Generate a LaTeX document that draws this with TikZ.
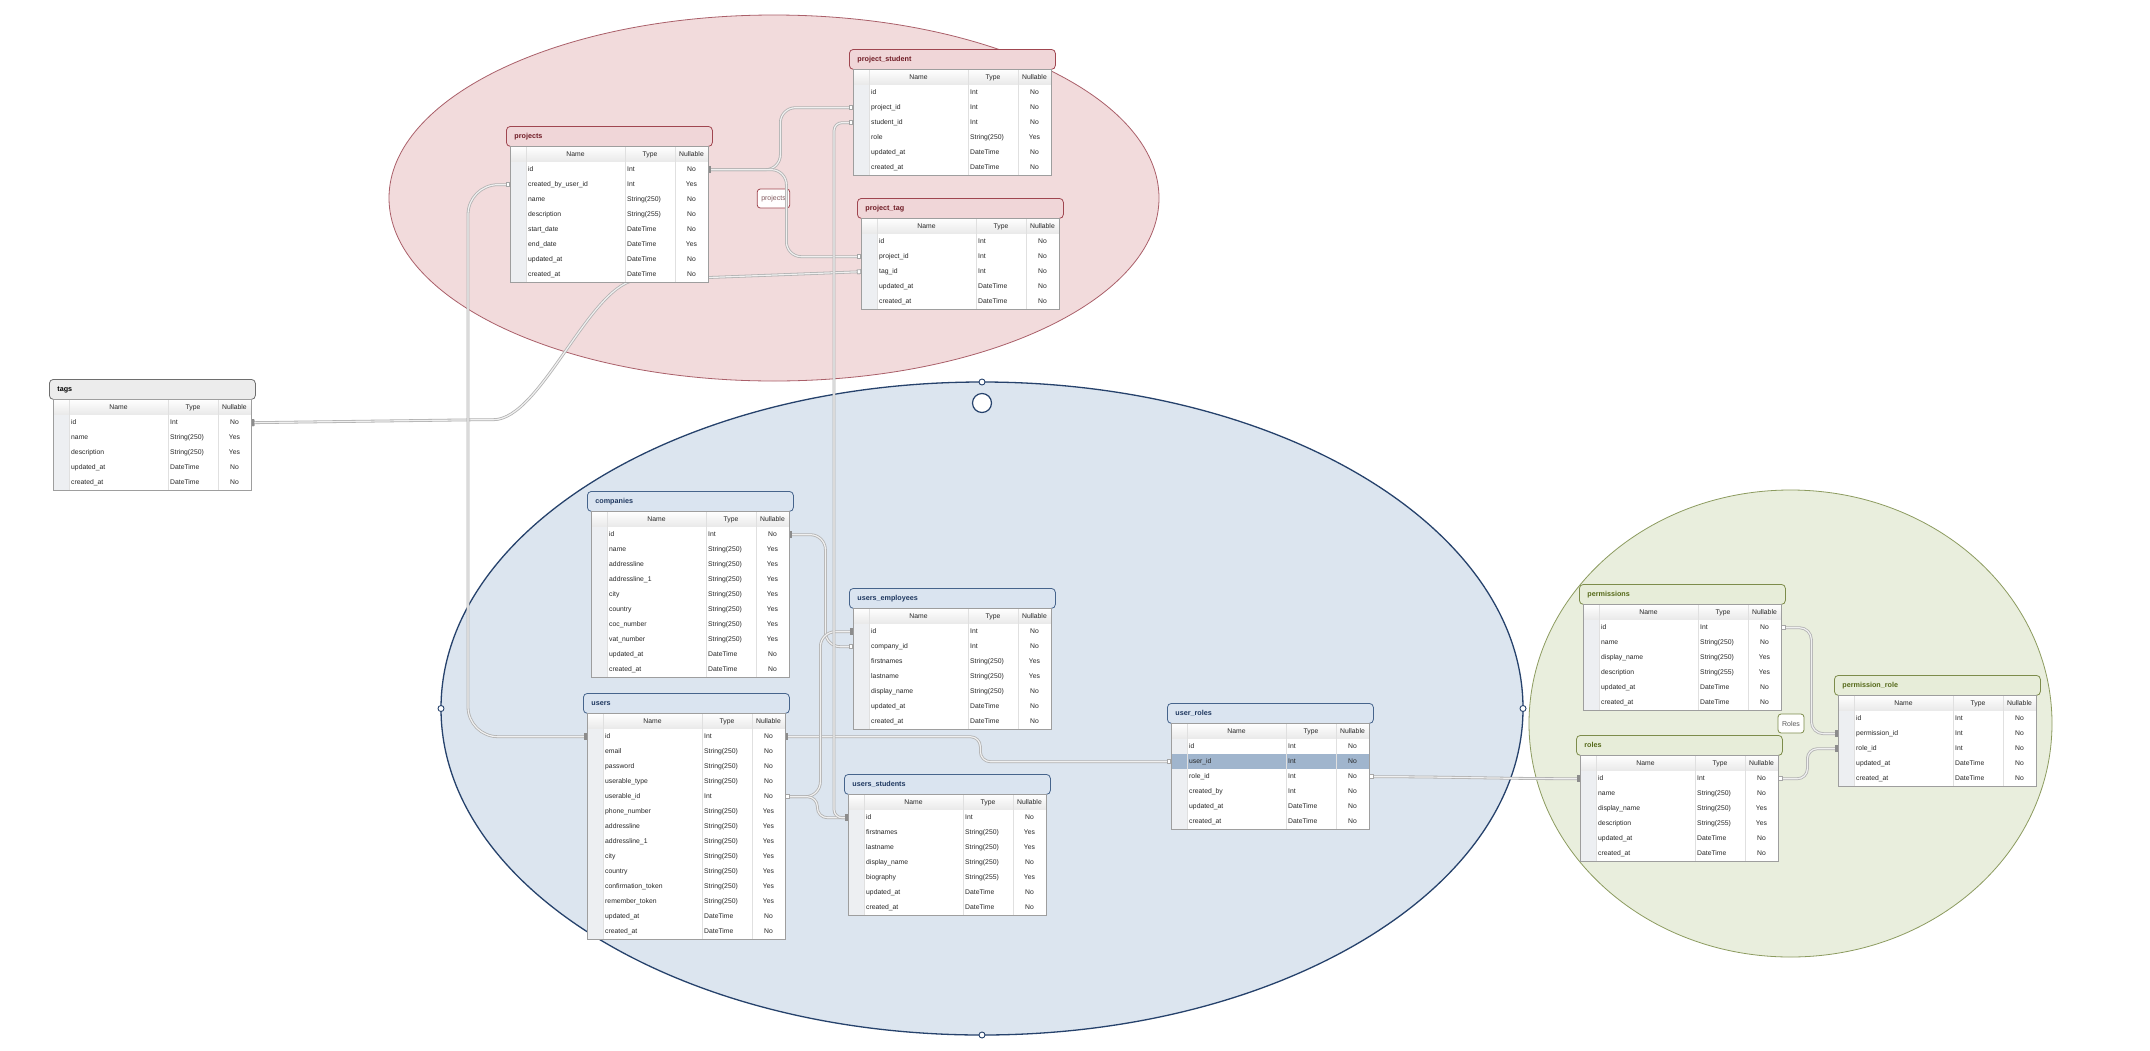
\documentclass[tikz,border=0pt]{standalone}
\usepackage{fontspec}
\setmainfont{Liberation Sans}
\usetikzlibrary{arrows.meta}

\definecolor{projzone}{RGB}{242,219,220}
\definecolor{projzoneline}{RGB}{170,95,105}
\definecolor{userzone}{RGB}{220,229,239}
\definecolor{userzoneline}{RGB}{38,66,108}
\definecolor{rolezone}{RGB}{233,238,221}
\definecolor{rolezoneline}{RGB}{140,155,95}
\definecolor{projtab}{RGB}{240,214,216}
\definecolor{projline}{RGB}{160,70,80}
\definecolor{projtext}{RGB}{110,25,35}
\definecolor{usertab}{RGB}{218,228,240}
\definecolor{userline}{RGB}{70,100,140}
\definecolor{usertext}{RGB}{30,55,95}
\definecolor{roletab}{RGB}{231,237,217}
\definecolor{roleline}{RGB}{125,140,75}
\definecolor{roletext}{RGB}{85,105,25}
\definecolor{tagtab}{RGB}{236,236,236}
\definecolor{tagline}{RGB}{110,110,110}
\definecolor{blankgray}{RGB}{237,239,242}
\definecolor{rowhl}{RGB}{160,181,205}

\pgfdeclarelayer{zones}
\pgfdeclarelayer{pipes}
\pgfsetlayers{zones,pipes,main}

\tikzset{
  tabhead/.style={anchor=north west, rounded corners=4pt, line width=0.8pt,
    minimum height=20pt, text width=190pt, inner xsep=8pt, inner ysep=0pt,
    text height=5.2pt, text depth=1.6pt, align=left,
    font=\fontsize{7.2}{9}\selectfont\bfseries},
  red tab/.style={fill=projtab, draw=projline, text=projtext},
  blue tab/.style={fill=usertab, draw=userline, text=usertext},
  green tab/.style={fill=roletab, draw=roleline, text=roletext},
  gray tab/.style={fill=tagtab, draw=tagline, text=black},
  colhead/.style={anchor=north west, minimum width=198pt, minimum height=16pt,
    inner sep=0pt, top color=white, bottom color=black!9},
  coltext/.style={anchor=base, inner sep=0pt, text=black!85,
    font=\fontsize{6.8}{8}\selectfont},
  fieldrow/.style={anchor=north west, minimum width=198pt, minimum height=15pt,
    inner sep=0pt},
  celltext/.style={inner sep=0pt, text=black!85, font=\fontsize{6.8}{8}\selectfont},
  gridline/.style={draw=black!12, line width=0.8pt},
  tabframe/.style={draw=black!38, line width=0.8pt},
  keyend/.tip={Rectangle[length=3pt, width=7pt, round, fill=black!45, color=black!45]},
  refend/.tip={Rectangle[length=4pt, width=4.5pt, fill=white, color=black!35, line width=0.6pt]},
  pipe/.style={draw=black!6, line width=1.2pt, rounded corners=12pt,
    preaction={draw=black!30, line width=2.8pt}},
  zonelabel/.style={rounded corners=3pt, line width=0.8pt, minimum height=19pt,
    inner xsep=4pt, font=\fontsize{7}{9}\selectfont},
  handle/.style={draw=userzoneline, fill=white, line width=0.9pt},
}

% #1 highlighted field, #2 table, #3 #4 top left of title, #5 group, #6 fields
\newcommand{\erdtable}[6][]{%
  \node[tabhead, #5 tab] (#2) at (#3,#4) {#2};
  \node[colhead] (#2-cols) at (#3+4,#4+20) {};
  \node[coltext] (#2-cname) at (#3+69.5,#4+30.4) {Name};
  \node[coltext] (#2-ctype) at (#3+144,#4+30.4) {Type};
  \node[coltext] (#2-cnull) at (#3+185.5,#4+30.4) {Nullable};
  \draw[gridline] (#2-cols.south west) -- (#2-cols.south east);
  \foreach \fld/\typ/\nul [count=\i] in {#6} {
    \edef\erdcur{\fld}\edef\erdmark{#1}%
    \ifx\erdcur\erdmark \def\rowfill{rowhl}\def\cellfill{rowhl}%
    \else \def\rowfill{white}\def\cellfill{blankgray}\fi
    \node[fieldrow, fill=\rowfill] (#2-\fld) at (#3+4,#4+21+15*\i) {};
    \path[fill=\cellfill] (#2-\fld.north west) rectangle ++(16,15);
    \draw[gridline] (#2-\fld.south west) -- (#2-\fld.south east);
    \node[celltext, anchor=base west] (#2-\fld-n) at (#3+22,#4+30.8+15*\i) {\fld};
    \node[celltext, anchor=base west] (#2-\fld-t) at (#3+121,#4+30.8+15*\i) {\typ};
    \node[celltext, anchor=base] (#2-\fld-v) at (#3+185.5,#4+30.8+15*\i) {\nul};
    \xdef\erdrows{\i}
  }
  \foreach \cx in {20,119,169}
    \draw[gridline] (#3+\cx,#4+20) -- ++(0,16+15*\erdrows);
  \draw[tabframe] (#3+4,#4+20) rectangle ++(198,16+15*\erdrows);
}

\begin{document}
\catcode`\_=12
\begin{tikzpicture}[x=1pt, y=-1pt]
  % zones
  \begin{pgfonlayer}{zones}
    \path[use as bounding box, fill=white] (0,0) rectangle (2150,1050);
    \draw[fill=projzone, draw=projzoneline, line width=0.8pt] (774,198) ellipse [x radius=385pt, y radius=183pt];
    \draw[fill=userzone, draw=userzoneline, line width=1.3pt] (982,708.5) ellipse [x radius=541pt, y radius=326.5pt];
    \draw[fill=rolezone, draw=rolezoneline, line width=0.8pt] (1790.5,723.5) ellipse [x radius=261.5pt, y radius=233.5pt];
    \draw[handle] (982,382) circle [radius=3pt]
                  (982,1035) circle [radius=3pt]
                  (441,708.5) circle [radius=3pt]
                  (1523,708.5) circle [radius=3pt];
    \draw[handle, line width=1.2pt] (982,403) circle [radius=9.5pt];
  \end{pgfonlayer}

  % tables
  \erdtable{projects}{506}{126}{red}{id/Int/No, created_by_user_id/Int/Yes,
    name/String(250)/No, description/String(255)/No, start_date/DateTime/No,
    end_date/DateTime/Yes, updated_at/DateTime/No, created_at/DateTime/No}
  \erdtable{project_student}{849}{49}{red}{id/Int/No, project_id/Int/No,
    student_id/Int/No, role/String(250)/Yes, updated_at/DateTime/No, created_at/DateTime/No}
  \erdtable{project_tag}{857}{198}{red}{id/Int/No, project_id/Int/No,
    tag_id/Int/No, updated_at/DateTime/No, created_at/DateTime/No}
  \erdtable{tags}{49}{379}{gray}{id/Int/No, name/String(250)/Yes,
    description/String(250)/Yes, updated_at/DateTime/No, created_at/DateTime/No}
  \erdtable{companies}{587}{491}{blue}{id/Int/No, name/String(250)/Yes,
    addressline/String(250)/Yes, addressline_1/String(250)/Yes, city/String(250)/Yes,
    country/String(250)/Yes, coc_number/String(250)/Yes, vat_number/String(250)/Yes,
    updated_at/DateTime/No, created_at/DateTime/No}
  \erdtable{users}{583}{693}{blue}{id/Int/No, email/String(250)/No,
    password/String(250)/No, userable_type/String(250)/No, userable_id/Int/No,
    phone_number/String(250)/Yes, addressline/String(250)/Yes, addressline_1/String(250)/Yes,
    city/String(250)/Yes, country/String(250)/Yes, confirmation_token/String(250)/Yes,
    remember_token/String(250)/Yes, updated_at/DateTime/No, created_at/DateTime/No}
  \erdtable{users_employees}{849}{588}{blue}{id/Int/No, company_id/Int/No,
    firstnames/String(250)/Yes, lastname/String(250)/Yes, display_name/String(250)/No,
    updated_at/DateTime/No, created_at/DateTime/No}
  \erdtable{users_students}{844}{774}{blue}{id/Int/No, firstnames/String(250)/Yes,
    lastname/String(250)/Yes, display_name/String(250)/No, biography/String(255)/Yes,
    updated_at/DateTime/No, created_at/DateTime/No}
  \erdtable[user_id]{user_roles}{1167}{703}{blue}{id/Int/No, user_id/Int/No,
    role_id/Int/No, created_by/Int/No, updated_at/DateTime/No, created_at/DateTime/No}
  \erdtable{permissions}{1579}{584}{green}{id/Int/No, name/String(250)/No,
    display_name/String(250)/Yes, description/String(255)/Yes, updated_at/DateTime/No,
    created_at/DateTime/No}
  \erdtable{roles}{1576}{735}{green}{id/Int/No, name/String(250)/No,
    display_name/String(250)/Yes, description/String(255)/Yes, updated_at/DateTime/No,
    created_at/DateTime/No}
  \erdtable{permission_role}{1834}{675}{green}{id/Int/No, permission_id/Int/No,
    role_id/Int/No, updated_at/DateTime/No, created_at/DateTime/No}

  % relations
  \begin{pgfonlayer}{pipes}
    \node[zonelabel, draw=projline, fill=white!97!projtab, text=projtext!70!black!70] (projlink) at (773.5,198.5) {projects};
    \node[zonelabel, draw=roleline, fill=white!96!roletab, text=black!65] (roleslink) at (1791,723.5) {Roles};
    \draw[pipe, {keyend}-{refend}, rounded corners=15pt] (projects-id.east) -- ++(72,0) |- (project_student-project_id.west);
    \draw[pipe, {keyend}-{refend}, rounded corners=15pt] (projects-id.east) -- ++(78,0) |- (project_tag-project_id.west);
    \draw[pipe, {keyend}-{refend}] (tags-id.east) -- ++(230,-3) .. controls +(60,0) and +(-60,0) .. ++(170,-140) -- (project_tag-tag_id.west);
    \draw[pipe, {refend}-{keyend}, rounded corners=30pt] (projects-created_by_user_id.west) -- ++(-42,0) |- (users-id.west);
    \draw[pipe, {keyend}-{refend}, rounded corners=10pt] (users-id.east) -- ++(195,0) |- (user_roles-user_id.west);
    \draw[pipe, {refend}-{keyend}] (user_roles-role_id.east) to[out=0, in=180] (roles-id.west);
    \draw[pipe, {refend}-{keyend}] (permissions-id.east) -- ++(30,0) |- (permission_role-permission_id.west);
    \draw[pipe, {refend}-{keyend}, rounded corners=10pt] (roles-id.east) -- ++(29,0) |- (permission_role-role_id.west);
    \draw[pipe, {keyend}-{refend}, rounded corners=15pt] (companies-id.east) -- ++(36,0) |- (users_employees-company_id.west);
    \draw[pipe, {refend}-{keyend}, rounded corners=15pt] (users-userable_id.east) -- ++(35,0) |- (users_employees-id.west);
    \draw[pipe, {refend}-{keyend}, rounded corners=10pt] (users-userable_id.east) -- ++(32,0) |- (users_students-id.west);
    \draw[pipe, {refend}-{keyend}, rounded corners=8pt] (project_student-student_id.west) -- ++(-19,0) |- (users_students-id.west);
  \end{pgfonlayer}
\end{tikzpicture}
\end{document}
